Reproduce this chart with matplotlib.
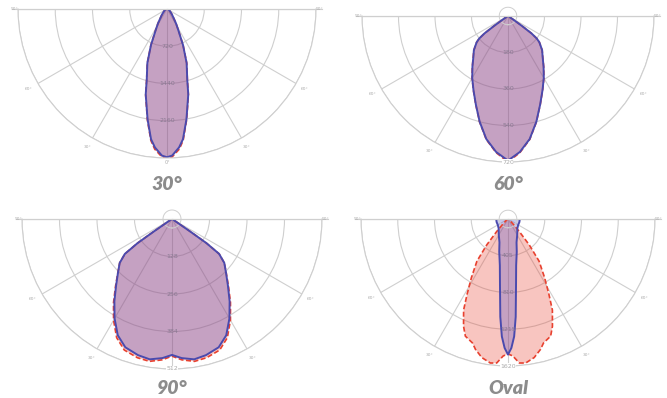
import numpy as np
import matplotlib.pyplot as plt

# half-curves (0..90 deg from nadir), candela, mirrored for the other side
ang_30 = [0, 2, 5, 7, 10, 14, 16, 20, 24, 28, 32, 36, 42, 50, 60, 75, 90]
blue_30 = [2865, 2835, 2685, 2535, 2165, 1700, 1420, 1110, 760, 470, 330, 220, 145, 85, 55, 25, 0]
red_30 = [2880, 2860, 2720, 2560, 2180, 1710, 1430, 1115, 765, 475, 330, 220, 145, 85, 55, 25, 0]

ang_60 = [0, 5, 10, 15, 20, 25, 30, 35, 40, 45, 50, 52, 53.5, 54.5, 55.5, 57, 65, 90]
blue_60 = [713, 673, 616, 540, 464, 403, 353, 306, 266, 238, 202, 180, 144, 86, 36, 11, 5, 0]
red_60 = [720, 676, 618, 541, 465, 404, 354, 307, 267, 238, 202, 180, 144, 86, 36, 11, 5, 0]

ang_90 = [0, 4, 9, 14, 20, 25, 30, 35, 40, 45, 50, 53.5, 55, 55.5, 56.5, 60, 90]
blue_90 = [464, 476, 485, 479, 466, 438, 392, 343, 297, 261, 233, 200, 143, 77, 15, 5, 0]
red_90 = [468, 482, 492, 488, 476, 447, 399, 348, 300, 262, 233, 200, 143, 77, 15, 5, 0]

ang_ov_b = [0, 1.5, 3, 4.5, 7, 10, 15, 20, 30, 45, 60, 75, 90]
blue_ov = [1494, 1422, 1296, 1082, 726, 518, 373, 275, 203, 146, 130, 130, 130]
ang_ov_r = [0, 2, 4.5, 7, 10.7, 14, 16, 20, 22.5, 26, 28.6, 32, 36.4, 39.4, 42, 45, 50, 60, 90]
red_ov = [1487, 1510, 1592, 1599, 1554, 1481, 1421, 1374, 1280, 1116, 940, 760, 577, 368, 188, 81, 32, 16, 0]

titles = ["30°", "60°", "90°", "Oval"]
ring_step = [720, 180, 128, 405]
angle_ticks = [-90, -60, -30, 30, 60, 90]

W, H = 667, 398
fig = plt.figure(figsize=(W / 100, H / 100), dpi=100)

grid_c = '#cfcfcf'
blue = '#4a4aae'
red = '#e8412f'


def mirror(ang, r):
    a = np.array(ang, dtype=float)
    r = np.array(r, dtype=float)
    th = np.concatenate([-a[::-1], a[1:]])
    rr = np.concatenate([r[::-1], r[1:]])
    return np.deg2rad(th), rr


def panel(cx, cy, R, step, red_data, blue_data, title, ty, outer_lab, small_ring):
    # polar axes keep a square box; the half disc sits in the middle of it
    ax = fig.add_axes([(cx - R) / W, 1 - (cy + 1.5 * R) / H, 2 * R / W, 2 * R / H], projection='polar')
    ax.set_theta_zero_location('S')
    ax.set_thetamin(-90)
    ax.set_thetamax(90)
    rmax = 4 * step
    ax.set_ylim(0, rmax)
    ax.set_axisbelow(True)
    ax.set_thetagrids([-90, -60, -30, 0, 30, 60, 90], [""] * 7)
    ax.set_rticks([step, 2 * step, 3 * step, rmax])
    ax.set_yticklabels([])
    ax.grid(True, color=grid_c, lw=0.8)
    for s in ax.spines.values():
        s.set_color(grid_c)
        s.set_linewidth(0.8)
    ax.spines['inner'].set_visible(False)

    # horizontal line runs a little past the outer ring
    for a in (-90, 90):
        ax.plot(np.deg2rad([a, a]), [0, 1.04 * rmax], color=grid_c, lw=0.8, clip_on=False)

    if small_ring:
        tc = np.linspace(0, 2 * np.pi, 100)
        ax.plot(tc, np.full_like(tc, 0.06 * rmax), color=grid_c, lw=0.7, clip_on=False)

    th, rr = mirror(*red_data)
    ax.fill(th, rr, color=red, alpha=0.3, lw=0)
    tb, rb = mirror(*blue_data)
    ax.fill(tb, rb, color='#5050c8', alpha=0.3, lw=0)
    ax.plot(np.append(th, th[0]), np.append(rr, rr[0]), color=red, lw=1.2, ls=(0, (3, 1.5)))
    ax.plot(np.append(tb, tb[0]), np.append(rb, rb[0]), color=blue, lw=1.4)

    # angle labels just outside the outer ring
    for a in angle_ticks:
        f = 1.025 if abs(a) == 90 else 1.07
        ax.text(np.deg2rad(a), f * rmax, f"{abs(a)}°", ha='center', va='center',
                fontsize=3.2, color='#aaaaaa', clip_on=False)

    # ring values along the vertical spoke
    for k in range(3):
        ax.text(0, (k + 1) * step, str((k + 1) * step), ha='center', va='center',
                fontsize=4.5, color='#8a7a92')
    if outer_lab:
        ax.text(0, rmax, outer_lab, ha='center', va='center', fontsize=4.5, color='#aaaaaa',
                clip_on=False, bbox=dict(fc='white', ec='none', pad=0.3))
    else:
        ax.text(0, 1.03 * rmax, "0°", ha='center', va='center', fontsize=3.5,
                color='#aaaaaa', clip_on=False)

    fig.text(cx / W, 1 - ty / H, title, ha='center', va='center', fontsize=14,
             fontweight='heavy', fontstyle='italic', family='Lato', color='#8c8c8c')
    return ax


panel(167, 9, 149, ring_step[0], (ang_30, red_30), (ang_30, blue_30), titles[0], 184, None, False)
panel(508, 16, 146, ring_step[1], (ang_60, red_60), (ang_60, blue_60), titles[1], 184, "720", True)
panel(172, 219, 150, ring_step[2], (ang_90, red_90), (ang_90, blue_90), titles[2], 388, "512", True)
panel(508, 219, 147, ring_step[3], (ang_ov_r, red_ov), (ang_ov_b, blue_ov), titles[3], 388, "1620", True)

fig.savefig('out.png', dpi=100)
